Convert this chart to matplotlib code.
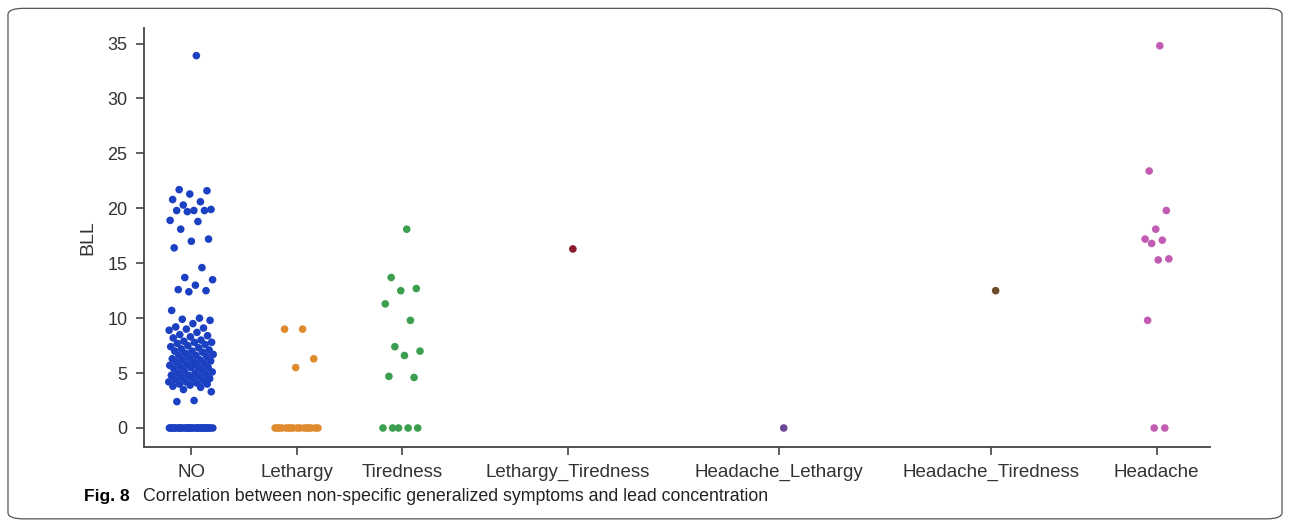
import numpy as np
import matplotlib.pyplot as plt
from matplotlib.patches import FancyBboxPatch

# symptom groups and blood lead level (BLL) readings
categories = ['NO', 'Lethargy', 'Tiredness', 'Lethargy_Tiredness',
              'Headache_Lethargy', 'Headache_Tiredness', 'Headache']

bll_no = [33.9, 21.7, 21.6, 21.3, 20.8, 20.6, 20.3, 19.9, 19.8, 19.8, 19.8, 19.7,
          18.9, 18.8, 18.1, 17.2, 17.0, 16.4, 14.6, 13.7, 13.5, 13.0, 12.6, 12.5,
          12.4, 10.7, 10.0, 9.9, 9.8, 9.5, 9.2, 9.1, 9.0, 8.9, 8.7,
          8.5, 8.4, 8.3, 8.2, 8.0, 7.9, 7.8, 7.8, 7.7, 7.6, 7.5, 7.4, 7.3, 7.2, 7.1,
          7.0, 7.0, 6.9, 6.8, 6.7, 6.6, 6.6, 6.5, 6.4, 6.3, 6.2, 6.2, 6.1, 6.0, 6.0,
          5.9, 5.8, 5.7, 5.6, 5.6, 5.5, 5.5, 5.4, 5.3, 5.2, 5.1, 5.0, 5.0, 4.9, 4.8,
          4.8, 4.7, 4.6, 4.5, 4.5, 4.4, 4.3, 4.2, 4.2, 4.1, 4.0, 4.0, 3.9, 3.8, 3.7,
          3.5, 3.3, 2.5, 2.4] + [0.0] * 30
bll_lethargy = [9.0, 9.0, 6.3, 5.5] + [0.0] * 16
bll_tiredness = [18.1, 13.7, 12.7, 12.5, 11.3, 9.8, 7.4, 7.0, 6.6, 4.7, 4.6,
                 0.0, 0.0, 0.0, 0.0, 0.0]
bll_leth_tired = [16.3]
bll_head_leth = [0.0]
bll_head_tired = [12.5]
bll_headache = [34.8, 23.4, 19.8, 18.1, 17.2, 17.1, 16.8, 15.4, 15.3, 9.8, 0.0, 0.0]

groups = [bll_no, bll_lethargy, bll_tiredness, bll_leth_tired,
          bll_head_leth, bll_head_tired, bll_headache]

# where each category sits along the x axis, and how wide its strip is
positions = [0, 0.99, 1.97, 3.52, 5.49, 7.47, 9.02]
jitter = [0.21, 0.22, 0.19, 0.2, 0.2, 0.2, 0.13]
colors = ['#1b40c2', '#e08a2e', '#3c9f50', '#8b1a2b', '#6c4896', '#6b4a28', '#c25cb2']

fig = plt.figure(figsize=(12.9, 5.22), dpi=100)
ax = fig.add_axes([0.1116, 0.1437, 0.8264, 0.8023])

for pos, vals, col, jit in zip(positions, groups, colors, jitter):
    n = len(vals)
    # evenly spread strip offsets (golden-ratio sequence)
    offs = ((np.arange(1, n + 1) * 0.618034) % 1 - 0.5) * 2 * jit
    ax.scatter(pos + offs, vals, s=30, color=col, edgecolors='none', zorder=3)

ax.set_xlim(-0.44, 9.52)
ax.set_ylim(-1.73, 36.4)
ax.set_xticks(positions)
ax.set_xticklabels(categories)
ax.set_yticks(range(0, 36, 5))
ax.set_ylabel('BLL', fontsize=14, family='Liberation Sans', color='#333333', labelpad=8)

for s in ['top', 'right']:
    ax.spines[s].set_visible(False)
for s in ['left', 'bottom']:
    ax.spines[s].set_color('#444444')
    ax.spines[s].set_linewidth(1.3)
ax.tick_params(direction='out', length=6, width=1.2, color='#444444',
               labelcolor='#333333', pad=6)
ax.tick_params(axis='x', labelsize=13.5)
ax.tick_params(axis='y', labelsize=13)
for lab in ax.get_xticklabels() + ax.get_yticklabels():
    lab.set_family('Liberation Sans')

# caption below the plot
fig.text(0.065, 0.040, 'Fig. 8', fontsize=12.5, fontweight='bold',
         family='Liberation Sans', va='baseline')
fig.text(0.111, 0.040, 'Correlation between non-specific generalized symptoms and lead concentration',
         fontsize=12.8, family='Liberation Sans', va='baseline', color='#222222')

# rounded frame around the whole figure
frame = FancyBboxPatch((0.0062, 0.006), 0.9876, 0.978,
                       boxstyle='round,pad=0,rounding_size=0.012',
                       transform=fig.transFigure, fill=False,
                       edgecolor='#555555', linewidth=0.9)
fig.patches.append(frame)

fig.savefig('out.png', dpi=100)
